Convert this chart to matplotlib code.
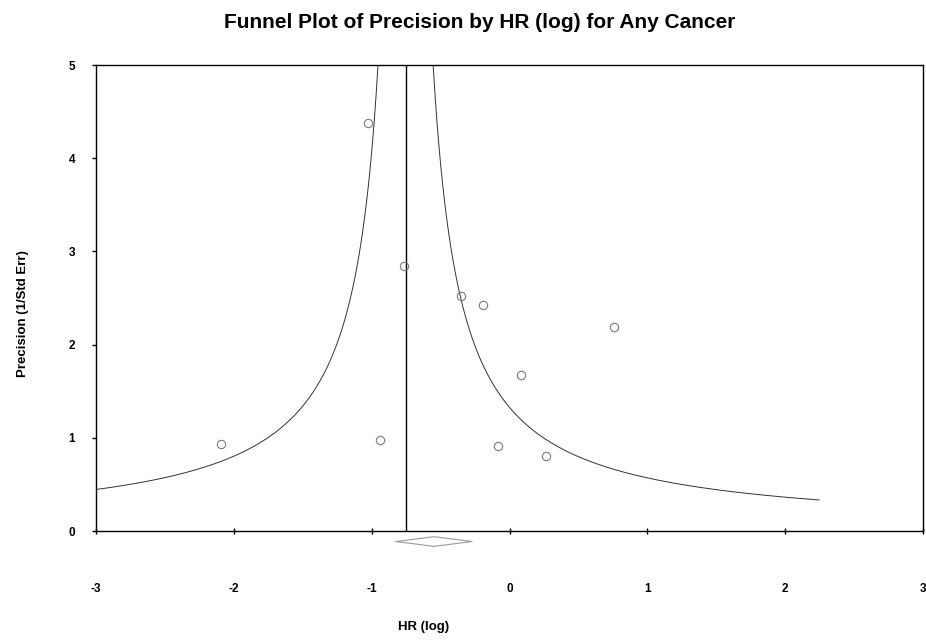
import numpy as np
import matplotlib
matplotlib.use("Agg")
import matplotlib.pyplot as plt

plt.rcParams['font.family'] = ['Liberation Sans', 'DejaVu Sans']

# study points: log HR and precision (1/SE)
hr_log = [-1.024, -0.768, -0.355, -0.191, 0.761, 0.083, -0.937, -2.096, -0.084, 0.264]
precision = [4.373, 2.848, 2.522, 2.425, 2.194, 1.669, 0.979, 0.929, 0.911, 0.800]

# pooled estimates
fixed_est = -0.754          # vertical line / funnel centre
summary_est = -0.548        # diamond centre
summary_lo = -0.823
summary_hi = -0.271
funnel_k = 1.0
se_min, se_max = 0.2, 3.0

x_ticks = [-3, -2, -1, 0, 1, 2, 3]
y_ticks = [0, 1, 2, 3, 4, 5]

fig = plt.figure(figsize=(9.26, 6.40), dpi=100)
ax = fig.add_axes([96 / 926, 1 - 531 / 640, (923 - 96) / 926, (531 - 65) / 640])

# funnel
se = np.linspace(se_min, se_max, 400)
ax.plot(fixed_est - funnel_k * se, 1 / se, color='#333333', lw=0.7)
ax.plot(fixed_est + funnel_k * se, 1 / se, color='#333333', lw=0.7)

# centre line
ax.plot([fixed_est, fixed_est], [0, 5], color='black', lw=1.0)

# studies
ax.plot(hr_log, precision, 'o', ms=6, mfc='none', mec='#7a7a7a', mew=0.8)

# summary diamond under the axis
dx = [summary_lo, summary_est, summary_hi, summary_est, summary_lo]
dy = [-0.113, -0.061, -0.113, -0.165, -0.113]
ax.plot(dx, dy, color='#999999', lw=0.8, clip_on=False)

ax.set_xlim(-3, 3)
ax.set_ylim(0, 5)
ax.set_xticks(x_ticks)
ax.set_yticks(y_ticks)
ax.set_xticklabels([str(t) for t in x_ticks], fontsize=8.5, fontweight='bold')
ax.set_yticklabels([str(t) for t in y_ticks], fontsize=8.5, fontweight='bold')
ax.tick_params(axis='x', direction='inout', length=5, width=1, pad=35)
ax.tick_params(axis='y', direction='out', length=3, width=1, pad=12)
for s in ax.spines.values():
    s.set_linewidth(1.0)

ax.set_xlabel('HR (log)', fontsize=9.5, fontweight='bold')
ax.xaxis.set_label_coords((424 - 96) / 827, (531 - 627) / 466)
ax.xaxis.label.set_va('center')
ax.set_ylabel('Precision (1/Std Err)', fontsize=9.5, fontweight='bold')
ax.yaxis.set_label_coords((23 - 96) / 827, (531 - 314) / 466)
ax.yaxis.label.set_va('center')

fig.text(480 / 926, 1 - 28 / 640, 'Funnel Plot of Precision by HR (log) for Any Cancer',
         ha='center', va='baseline', fontsize=15, fontweight='bold')

fig.savefig('out.png', dpi=100)
